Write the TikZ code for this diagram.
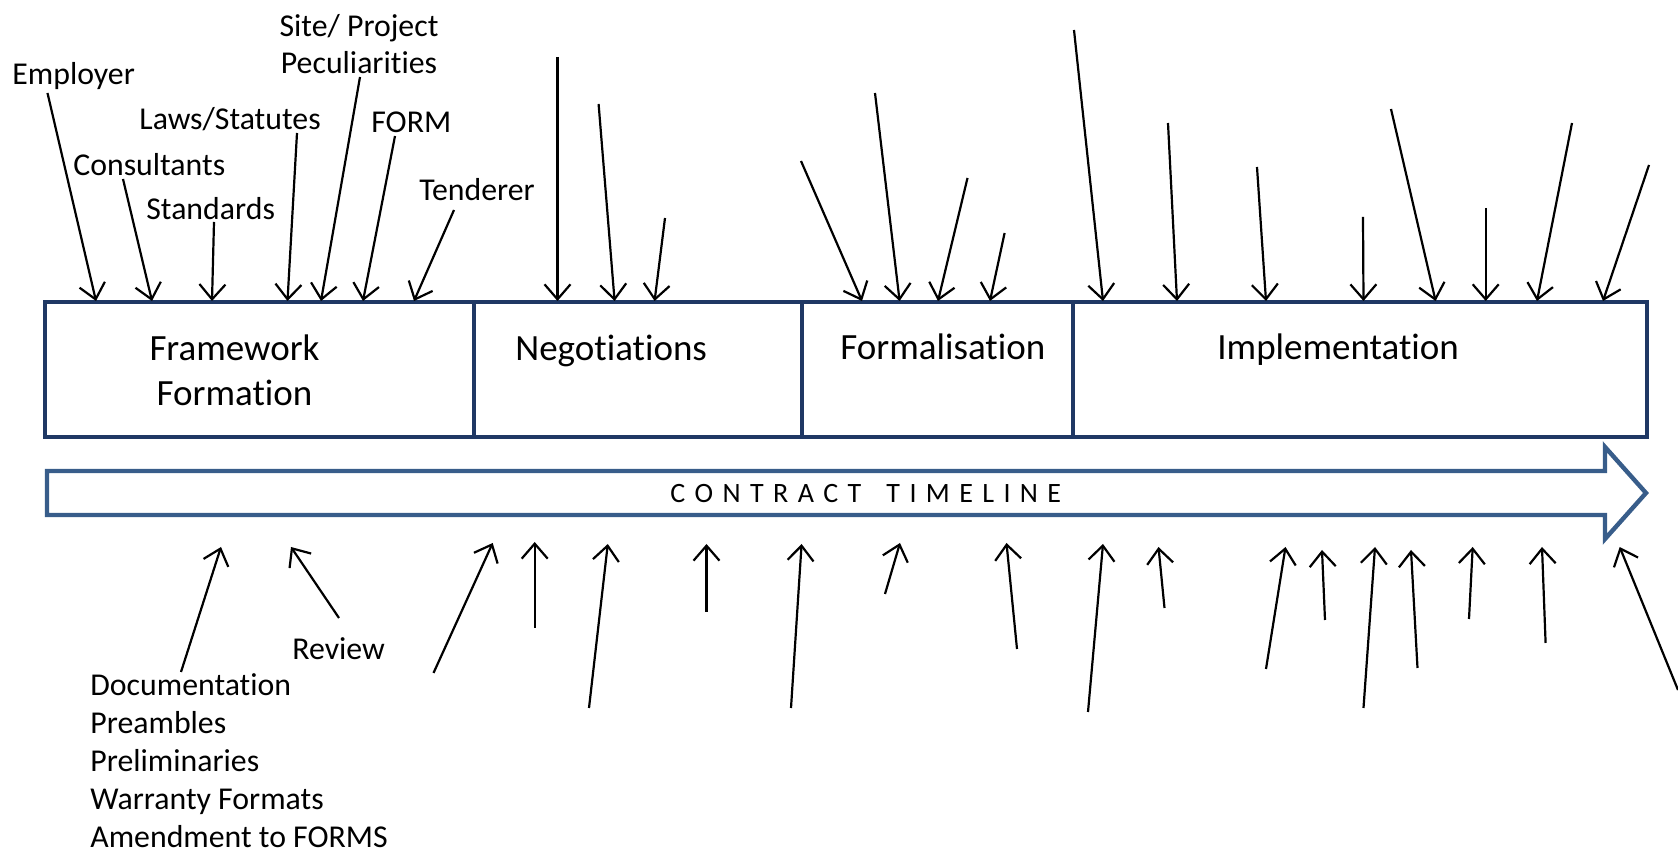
\documentclass[tikz,border=0pt]{standalone}
\usepackage{fontspec}
\setmainfont{Carlito}[Ligatures=NoCommon]
\usetikzlibrary{arrows.meta}
\definecolor{boxblue}{HTML}{1F3864}
\definecolor{tlblue}{HTML}{385D8A}
\tikzset{
  phase/.style={draw=boxblue, line width=2.4pt, rectangle, inner sep=0pt, outer sep=0pt, minimum height=67.5pt},
  lbl/.style={font=\fontsize{15.9}{18.5}\selectfont, inner sep=0pt, anchor=base west},
  ptxt/.style={font=\fontsize{18.5}{22.5}\selectfont, inner sep=0pt, anchor=base west},
  arr/.style={-{Straight Barb[length=7.5pt,width=13pt]}, line width=1.1pt, black},
  tlarrow/.style={draw=tlblue, line width=2.2pt, line join=miter},
}
\begin{document}
\begin{tikzpicture}[x=0.5pt,y=-0.5pt]
\useasboundingbox (0,0) rectangle (1678,854);

% phase boxes
\node[phase, minimum width=214.5pt] (fw)  at (259.5,369.5) {};
\node[phase, minimum width=164pt]   (neg) at (638,369.5) {};
\node[phase, minimum width=135.5pt] (fml) at (937.5,369.5) {};
\node[phase, minimum width=287pt]   (imp) at (1360,369.5) {};

\node[ptxt, anchor=base, align=center] (fwt) at (234.5,406) {Framework\\Formation};
\node[ptxt] (negt) at (515,361) {Negotiations};
\node[ptxt] (fmlt) at (840,360) {Formalisation};
\node[ptxt] (impt) at (1217,360) {Implementation};

% contract timeline arrow
\draw[tlarrow] (47,471) -- (1605,471) -- (1605,447) -- (1646,493) -- (1605,539) -- (1605,515) -- (47,515) -- cycle;
\node[font=\fontsize{14}{16}\selectfont, inner sep=0pt, anchor=base west] (tlt) at (670,503)
 {C\kern4.7pt O\kern4.7pt N\kern4.7pt T\kern4.7pt R\kern4.7pt A\kern4.7pt C\kern4.7pt T\kern4.7pt\ \kern4.7pt T\kern4.7pt I\kern4.7pt M\kern4.7pt E\kern4.7pt L\kern4.7pt I\kern4.7pt N\kern4.7pt E};

% top labels
\node[lbl] (employer) at (12,85) {Employer};
\node[lbl] (consult) at (73,176) {Consultants};
\node[lbl] (laws) at (139,130) {Laws/Statutes};
\node[lbl] (stand) at (146,220) {Standards};
\node[lbl, anchor=base, align=center] (site) at (359,74) {Site/ Project\\Peculiarities};
\node[lbl] (formlbl) at (371,133) {FORM};
\node[lbl] (tender) at (419,201) {Tenderer};

% bottom labels
\node[lbl] (review) at (292,660) {Review};
\node[lbl, align=left, font=\fontsize{15.9}{19}\selectfont] (doc) at (90,848)
 {Documentation\\Preambles\\Preliminaries\\Warranty Formats\\Amendment to FORMS};

% downward arrows onto the phase boxes
\foreach \i/\ax/\ay/\bx/\by in {
  1/47.5/93/96/301, 2/123/179/152/301, 3/214/222/212/301, 4/297/133/287.5/301,
  5/360/77/321/301, 6/395/136/363/301, 7/454/210/414/301,
  8/557.5/57/557.5/301, 9/598.6/104/614.6/301, 10/665/218/654.6/301,
  11/801/161/862/301, 12/875/93/899.6/301, 13/967.5/178/938/301, 14/1004.6/233/990/301,
  15/1074/30/1103/301, 16/1168/123/1177/301, 17/1257/167/1266/301, 18/1363/217/1363.5/301,
  19/1391/109/1435.6/301, 20/1485.7/208/1485.7/301, 21/1572/123/1537/301, 22/1649/165/1603/301}
{
  \coordinate (ds\i) at (\ax,\ay);
  \coordinate (de\i) at (\bx,\by);
  \draw[arr] (ds\i) -- (de\i);
}

% upward arrows towards the timeline
\foreach \i/\ax/\ay/\bx/\by in {
  1/181/672/221/547, 2/339/618/291/547, 3/433.5/673/492.7/543, 4/534.7/628/534.7/542,
  5/589/708/607.8/544, 6/706.5/612/706.5/544, 7/791/708/801.6/544, 8/885/594/900/543,
  9/1017/649/1006.5/543, 10/1088/712/1103/544, 11/1164.5/608/1158.5/547, 12/1266/669/1285.5/547,
  13/1325/620/1322/550, 14/1363.5/708/1375/547, 15/1417.5/668/1411/550, 16/1469/619/1472.7/547,
  17/1545.6/643/1542/547, 18/1678/690/1619.7/547}
{
  \coordinate (us\i) at (\ax,\ay);
  \coordinate (ue\i) at (\bx,\by);
  \draw[arr] (us\i) -- (ue\i);
}
\end{tikzpicture}
\end{document}
